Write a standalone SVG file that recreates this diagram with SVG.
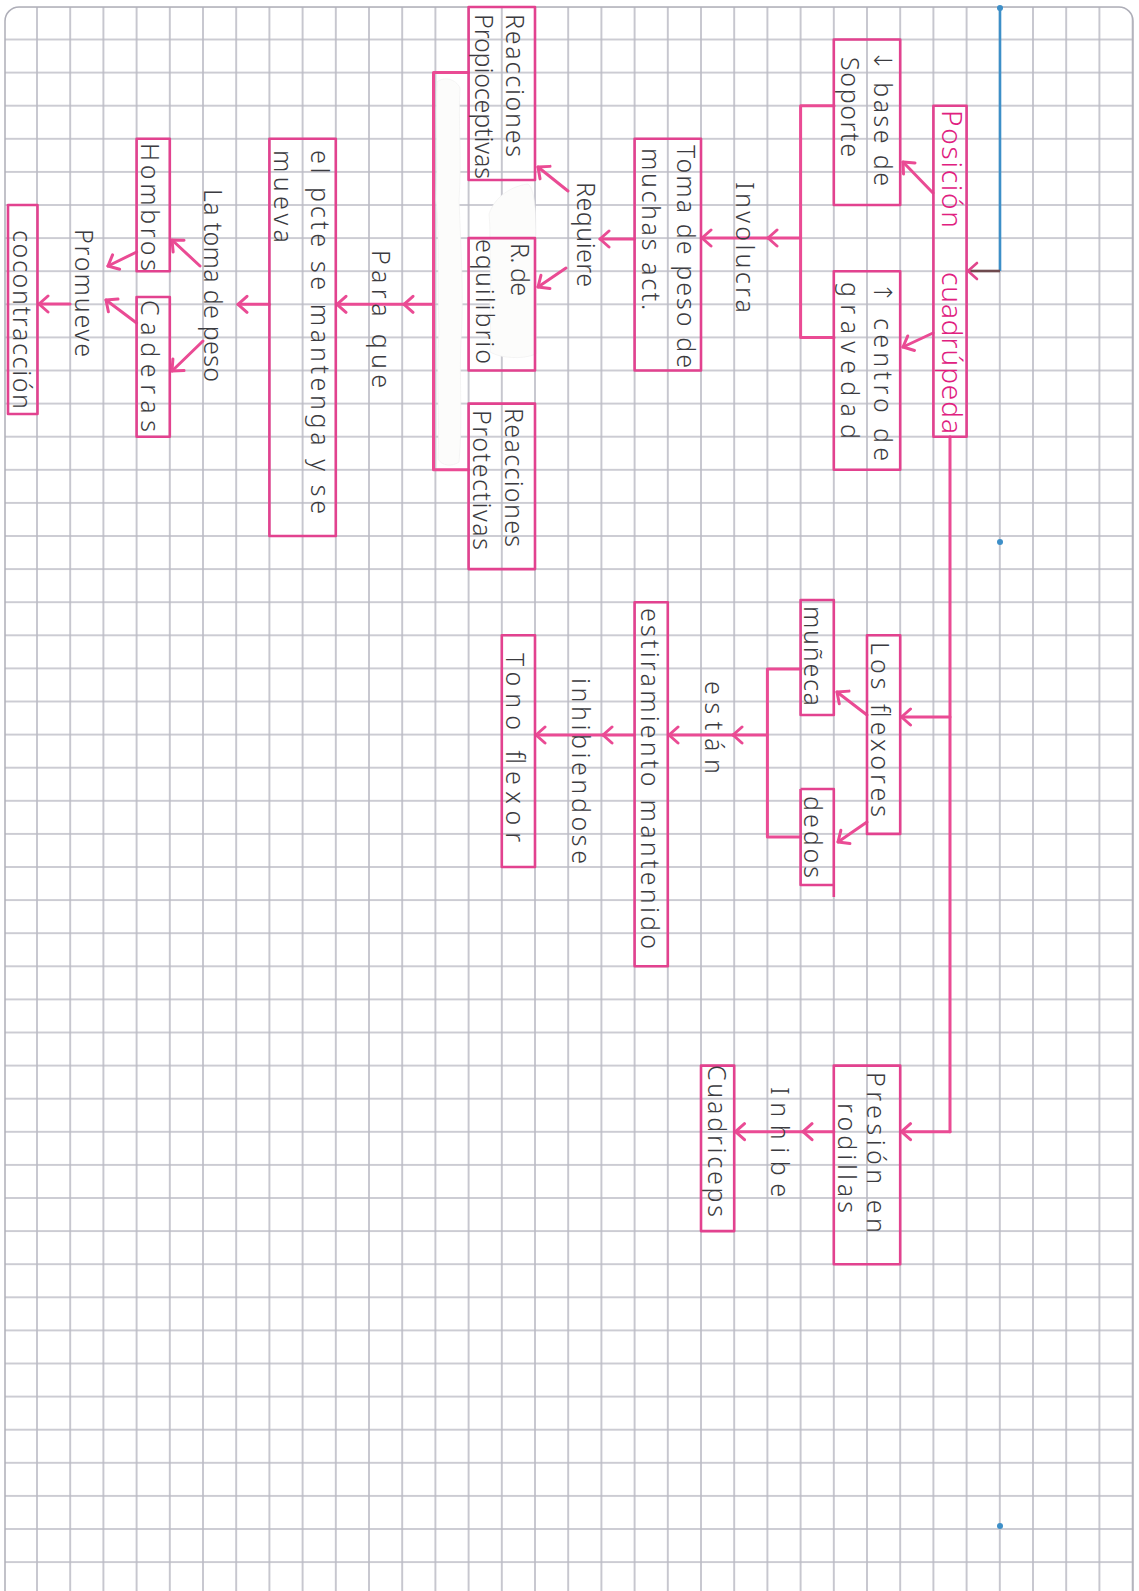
<svg xmlns="http://www.w3.org/2000/svg" width="1139" height="1591" viewBox="0 0 1139 1591">
<defs>
<style>
.box{fill:none;stroke:#e2428f;stroke-width:2.6;stroke-linejoin:round}
.ln{fill:none;stroke:#ea4b94;stroke-width:3;stroke-linecap:round;stroke-linejoin:round}
.ar{fill:none;stroke:#ea4b94;stroke-width:3;stroke-linecap:round;marker-end:url(#ah)}
.t{font-family:"Noto Sans","DejaVu Sans",sans-serif;font-size:25px;font-weight:300;fill:#3b3b40}
.rt{font-family:"Noto Sans","DejaVu Sans",sans-serif;font-size:28px;font-weight:300;fill:#e0207f}
.wo{fill:#fcfcfb;stroke:#efefef;stroke-width:0.6}
</style>
<pattern id="grid" x="20.4" y="22.95" width="33.2" height="33.1" patternUnits="userSpaceOnUse">
<path d="M0,16.55 H33.2 M16.6,0 V33.1" stroke="#bbbbc5" stroke-width="1.6" fill="none"/>
</pattern>
<clipPath id="paper"><rect x="5" y="7" width="1128" height="1600" rx="14"/></clipPath>
<marker id="ah" viewBox="-12 -10 14 20" refX="0" refY="0" markerWidth="14" markerHeight="20" markerUnits="userSpaceOnUse" orient="auto">
<path d="M-9,-8 L0,0 L-9,8" fill="none" stroke="#ea4b94" stroke-width="3" stroke-linecap="round" stroke-linejoin="round"/>
</marker>
<marker id="ahb" viewBox="-12 -10 14 20" refX="0" refY="0" markerWidth="14" markerHeight="20" markerUnits="userSpaceOnUse" orient="auto">
<path d="M-9,-8 L0,0 L-9,8" fill="none" stroke="#e0468c" stroke-width="2.6" stroke-linecap="round" stroke-linejoin="round"/>
</marker>
</defs>

<rect x="0" y="0" width="1139" height="1591" fill="#ffffff"/>
<g id="paper-sheet">
<rect x="5" y="7" width="1128" height="1600" rx="14" fill="#ffffff"/>
<rect x="5" y="7" width="1128" height="1600" fill="url(#grid)" clip-path="url(#paper)"/>
<rect x="5" y="7" width="1128" height="1600" rx="14" fill="none" stroke="#aeaeb8" stroke-width="1.5"/>
</g>

<g id="correction-fluid">
<path class="wo" d="M437,82 C444,76 456,79 460,88 C458,120 462,160 459,200 C461,250 464,300 461,340 C459,380 463,420 459,462 C452,467 442,466 438,459 C440,420 436,380 439,330 C437,280 440,240 436,200 C438,160 435,120 437,82 Z"/>
<path class="wo" d="M489,214 C495,196 512,186 528,184 C536,190 537,220 535,260 C537,300 536,330 536,354 C522,360 500,358 490,352 C492,320 488,300 491,280 C489,255 491,235 489,214 Z"/>
</g>

<g id="connectors">
<line x1="1000" y1="7" x2="1000" y2="271" stroke="#3d8fc8" stroke-width="2.6"/>
<circle cx="1000" cy="8" r="3" fill="#3d8fc8"/>
<circle cx="1000" cy="542" r="3" fill="#3d8fc8"/>
<circle cx="1000" cy="1526" r="3" fill="#3d8fc8"/>
<path d="M1000,271 H968" fill="none" stroke="#6e4a4e" stroke-width="2.6" marker-end="url(#ahb)"/>
<path class="ar" d="M933,193 L903,162"/>
<path class="ar" d="M933,333 L903,347"/>
<path class="ln" d="M834,105.7 H800.6 V337.4 H834"/>
<path class="ar" d="M800.6,238 H768"/>
<path class="ar" d="M768,238 H702"/>
<path class="ar" d="M634.6,239 H600"/>
<path class="ar" d="M568,191 L538,167"/>
<path class="ar" d="M566,268 L538,287"/>
<path class="ln" d="M468.6,72.6 H433.5 V469.8 H468.6"/>
<path class="ar" d="M433.5,304.3 H404"/>
<path class="ar" d="M404,304.3 H337"/>
<path class="ar" d="M269.4,304.3 H238"/>
<path class="ar" d="M200,266 L172,240"/>
<path class="ar" d="M203,341 L172,371"/>
<path class="ar" d="M136.6,252 L108,266"/>
<path class="ar" d="M136.6,323 L106,300"/>
<path class="ar" d="M70,304 H39"/>
<path class="ln" d="M950,436.7 V1131.7"/>
<path class="ar" d="M950,1131.7 H901.5"/>
<path class="ar" d="M950,717 H901.5"/>
<path class="ar" d="M867,715 L837,692"/>
<path class="ar" d="M867,822 L838,842"/>
<path class="ln" d="M800.6,669 H767.4 V837 H800.6"/>
<path class="ar" d="M767.4,735 H733"/>
<path class="ar" d="M733,735 H669"/>
<path class="ar" d="M634.6,735 H603"/>
<path class="ar" d="M603,735 H536"/>
<path class="ar" d="M833.8,1131.7 H803"/>
<path class="ar" d="M803,1131.7 H735.5"/>
</g>

<g id="n-posicion">
<rect class="box" x="933.4" y="105.7" width="33.2" height="331"/>
<text class="rt" transform="translate(942,110) rotate(90)"><tspan x="0" textLength="118" lengthAdjust="spacing">Posición</tspan><tspan x="162" textLength="162" lengthAdjust="spacing">cuadrúpeda</tspan></text>
</g>
<g id="n-base">
<rect class="box" x="833.8" y="39.5" width="66.4" height="165.5"/>
<text class="t" transform="translate(874,50) rotate(90)" textLength="136" lengthAdjust="spacing">↓ base de</text>
<text class="t" transform="translate(841,57) rotate(90)" textLength="100" lengthAdjust="spacing">Soporte</text>
</g>
<g id="n-centro">
<rect class="box" x="833.8" y="271.2" width="66.4" height="198.6"/>
<text class="t" transform="translate(874,282) rotate(90)" textLength="179" lengthAdjust="spacing">↑ centro de</text>
<text class="t" transform="translate(841,282) rotate(90)" textLength="157" lengthAdjust="spacing">gravedad</text>
</g>
<g id="l-involucra">
<text class="t" transform="translate(736,182) rotate(90)" textLength="131" lengthAdjust="spacing">Involucra</text>
</g>
<g id="n-toma">
<rect class="box" x="634.6" y="138.8" width="66.4" height="231.7"/>
<text class="t" transform="translate(677,145) rotate(90)" textLength="223" lengthAdjust="spacing">Toma de peso de</text>
<text class="t" transform="translate(642,148) rotate(90)" textLength="162" lengthAdjust="spacing">muchas act.</text>
</g>
<g id="l-requiere">
<text class="t" transform="translate(577,182) rotate(90)" textLength="105" lengthAdjust="spacing">Requiere</text>
</g>
<g id="n-propioceptivas">
<rect class="box" x="468.6" y="7" width="66.4" height="173"/>
<text class="t" transform="translate(506,14) rotate(90)" textLength="143" lengthAdjust="spacing">Reacciones</text>
<text class="t" transform="translate(475,14) rotate(90)" textLength="165" lengthAdjust="spacing">Propioceptivas</text>
</g>
<g id="n-equilibrio">
<rect class="box" x="468.6" y="238.1" width="66.4" height="132.4"/>
<text class="t" transform="translate(511,243) rotate(90)" textLength="53" lengthAdjust="spacing">R. de</text>
<text class="t" transform="translate(476,239) rotate(90)" textLength="125" lengthAdjust="spacing">equilibrio</text>
</g>
<g id="n-protectivas">
<rect class="box" x="468.6" y="403.6" width="66.4" height="165.5"/>
<text class="t" transform="translate(505,408) rotate(90)" textLength="139" lengthAdjust="spacing">Reacciones</text>
<text class="t" transform="translate(473,410) rotate(90)" textLength="140" lengthAdjust="spacing">Protectivas</text>
</g>
<g id="l-paraque">
<text class="t" transform="translate(372,250) rotate(90)" textLength="138" lengthAdjust="spacing">Para que</text>
</g>
<g id="n-pcte">
<rect class="box" x="269.4" y="138.8" width="66.4" height="397.2"/>
<text class="t" transform="translate(311,150) rotate(90)" textLength="364" lengthAdjust="spacing">el pcte se mantenga y se</text>
<text class="t" transform="translate(274,150) rotate(90)" textLength="93" lengthAdjust="spacing">mueva</text>
</g>
<g id="l-latoma">
<text class="t" transform="translate(204,189) rotate(90)" textLength="193" lengthAdjust="spacing">La toma de peso</text>
</g>
<g id="n-hombros">
<rect class="box" x="136.6" y="138.8" width="33.2" height="132.4"/>
<text class="t" transform="translate(141,143) rotate(90)" textLength="128" lengthAdjust="spacing">Hombros</text>
</g>
<g id="n-caderas">
<rect class="box" x="136.6" y="297" width="33.2" height="139.7"/>
<text class="t" transform="translate(141,300) rotate(90)" textLength="132" lengthAdjust="spacing">Caderas</text>
</g>
<g id="l-promueve">
<text class="t" transform="translate(75,229) rotate(90)" textLength="128" lengthAdjust="spacing">Promueve</text>
</g>
<g id="n-cocontraccion">
<rect class="box" x="8" y="205" width="29.5" height="209"/>
<text class="t" transform="translate(13,230) rotate(90)" textLength="179" lengthAdjust="spacing">cocontracción</text>
</g>
<g id="n-flexores">
<rect class="box" x="867" y="635.3" width="33.2" height="198.6"/>
<text class="t" transform="translate(871,642) rotate(90)" textLength="175" lengthAdjust="spacing">Los flexores</text>
</g>
<g id="n-muneca">
<rect class="box" x="800.6" y="600" width="33.2" height="115"/>
<text class="t" transform="translate(804,606) rotate(90)" textLength="100" lengthAdjust="spacing">muñeca</text>
</g>
<g id="n-dedos">
<path class="box" d="M800.6,789 H833.8 V897 M833.8,885 H800.6 V789"/>
<text class="t" transform="translate(804,796) rotate(90)" textLength="82" lengthAdjust="spacing">dedos</text>
</g>
<g id="l-estan">
<text class="t" transform="translate(705,681) rotate(90)" textLength="93" lengthAdjust="spacing">están</text>
</g>
<g id="n-estiramiento">
<rect class="box" x="634.6" y="602.2" width="33.2" height="364.1"/>
<text class="t" transform="translate(641,608) rotate(90)" textLength="341" lengthAdjust="spacing">estiramiento mantenido</text>
</g>
<g id="l-inhibiendose">
<text class="t" transform="translate(572,678) rotate(90)" textLength="186" lengthAdjust="spacing">inhibiendose</text>
</g>
<g id="n-tono">
<rect class="box" x="501.8" y="635.3" width="33.2" height="231.7"/>
<text class="t" transform="translate(506,653) rotate(90)" textLength="189" lengthAdjust="spacing">Tono flexor</text>
</g>
<g id="n-presion">
<rect class="box" x="833.8" y="1065.6" width="66.4" height="198.6"/>
<text class="t" transform="translate(867,1072) rotate(90)" textLength="161" lengthAdjust="spacing">Presión en</text>
<text class="t" transform="translate(838,1103) rotate(90)" textLength="110" lengthAdjust="spacing">rodillas</text>
</g>
<g id="l-inhibe">
<text class="t" transform="translate(771,1087) rotate(90)" textLength="110" lengthAdjust="spacing">Inhibe</text>
</g>
<g id="n-cuadriceps">
<rect class="box" x="701" y="1065.6" width="33.2" height="165.5"/>
<text class="t" transform="translate(708,1065) rotate(90)" textLength="152" lengthAdjust="spacing">Cuadriceps</text>
</g>
</svg>
